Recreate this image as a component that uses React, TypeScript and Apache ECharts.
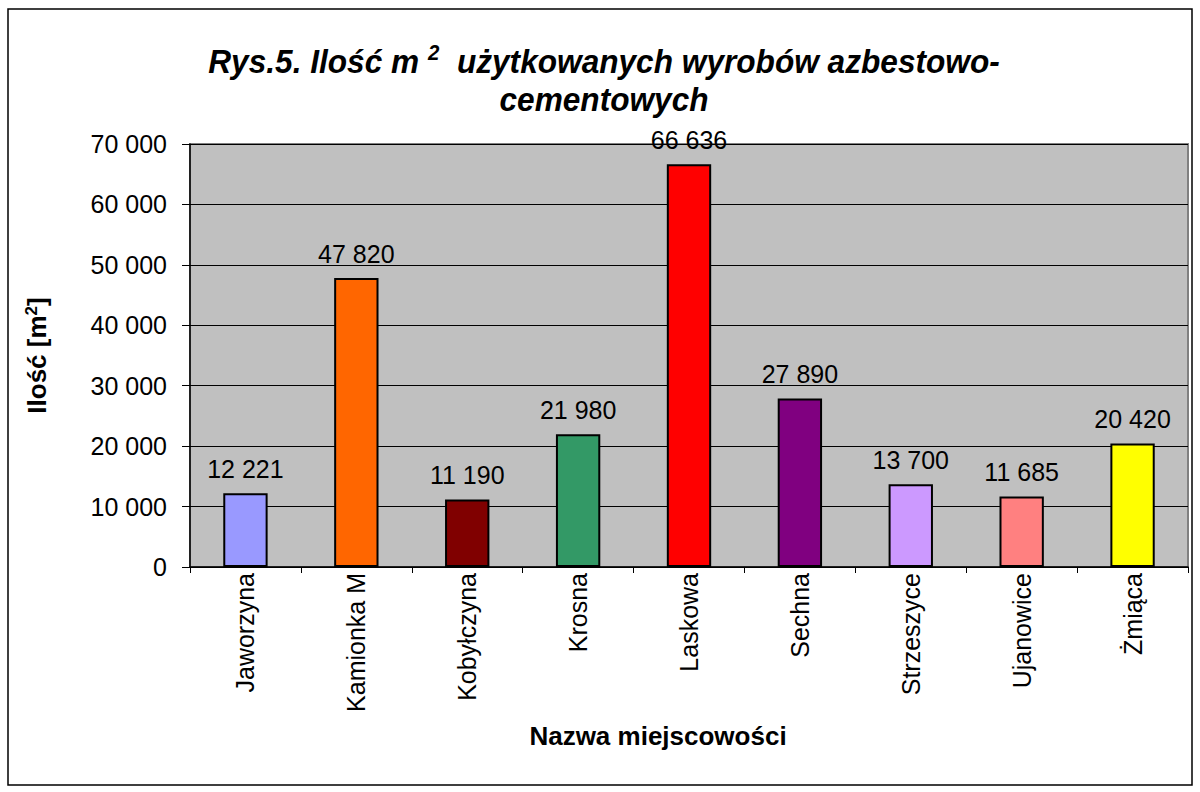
import React, { useEffect, useRef } from "react";
import * as echarts from "echarts";

const categories = ["Jaworzyna", "Kamionka M", "Kobyłczyna", "Krosna", "Laskowa", "Sechna", "Strzeszyce", "Ujanowice", "Żmiąca"];
const values = [12221, 47820, 11190, 21980, 66636, 27890, 13700, 11685, 20420];
const colors = ["#9999FF", "#FF6600", "#800000", "#339966", "#FF0000", "#800080", "#CC99FF", "#FF8080", "#FFFF00"];
const yTicks = [0, 10000, 20000, 30000, 40000, 50000, 60000, 70000];

const fmt = (v: number) => String(v).replace(/\B(?=(\d{3})+(?!\d))/g, " ");

export default function App() {
  const ref = useRef<HTMLDivElement>(null);
  useEffect(() => {
    document.body.style.margin = "0";
    const chart = echarts.init(ref.current!, null, { renderer: "svg" });
    const font = "Arial, 'Liberation Sans', sans-serif";
    chart.setOption({
      animation: false,
      backgroundColor: "#ffffff",
      textStyle: { fontFamily: font },
      graphic: [
        {
          type: "rect",
          shape: { x: 8, y: 9, width: 1184, height: 776 },
          style: { fill: "none", stroke: "#000", lineWidth: 1.5 },
          z: 0,
        },
        {
          type: "text",
          x: 604,
          y: 42,
          scaleX: 0.93,
          style: {
            text: "Rys.5. Ilość m {sup|2}  użytkowanych wyrobów azbestowo-\ncementowych",
            align: "center",
            fontFamily: font,
            fontSize: 34,
            fontWeight: "bold",
            fontStyle: "italic",
            fill: "#000",
            lineHeight: 38,
            rich: {
              sup: { fontSize: 22, fontWeight: "bold", fontStyle: "italic", verticalAlign: "top", padding: [0, 0, 16, 0], fontFamily: font, lineHeight: 38 },
            },
          } as any,
        },
      ],
      grid: {
        left: 190,
        top: 144,
        width: 998,
        height: 423,
        show: true,
        backgroundColor: "#C0C0C0",
        borderColor: "#808080",
        borderWidth: 2,
        containLabel: false,
      },
      xAxis: {
        type: "category",
        data: categories,
        name: "Nazwa miejscowości",
        nameLocation: "middle",
        nameGap: 156,
        nameTextStyle: { fontSize: 26, fontWeight: "bold", color: "#000", fontFamily: font, padding: [0, 62, 0, 0] },
        axisLine: { lineStyle: { color: "#000", width: 1.5 } },
        axisTick: { show: true, length: 6, lineStyle: { color: "#000" } },
        axisLabel: { rotate: 90, fontSize: 25, color: "#000", margin: 6, fontFamily: font, interval: 0 },
      },
      yAxis: {
        type: "value",
        min: 0,
        max: 70000,
        interval: 10000,
        name: "Ilość [m{sup|2}]",
        nameLocation: "middle",
        nameRotate: 90,
        nameGap: 140,
        nameTextStyle: {
          fontSize: 26,
          fontWeight: "bold",
          color: "#000",
          fontFamily: font,
          rich: { sup: { fontSize: 17, fontWeight: "bold", verticalAlign: "top", padding: [0, 0, 10, 0], fontFamily: font } },
        },
        axisLine: { show: true, lineStyle: { color: "#000", width: 1.5 } },
        axisTick: { show: true, length: 8, inside: false, lineStyle: { color: "#000" } },
        axisLabel: { fontSize: 25, color: "#000", margin: 23, fontFamily: font, formatter: (v: number) => (yTicks.includes(v) ? fmt(v) : "") },
        splitLine: { show: true, lineStyle: { color: "#000", width: 1 } },
      },
      series: [
        {
          type: "bar",
          barWidth: "40%",
          data: values.map((v, i) => ({ value: v, itemStyle: { color: colors[i] } })),
          itemStyle: { borderColor: "#000", borderWidth: 2 },
          label: {
            show: true,
            position: "top",
            distance: 12,
            fontSize: 25,
            color: "#000",
            fontFamily: font,
            formatter: (p: any) => fmt(p.value),
          },
        },
      ],
    });
    return () => chart.dispose();
  }, []);
  return <div ref={ref} style={{ width: 1200, height: 792 }} />;
}
